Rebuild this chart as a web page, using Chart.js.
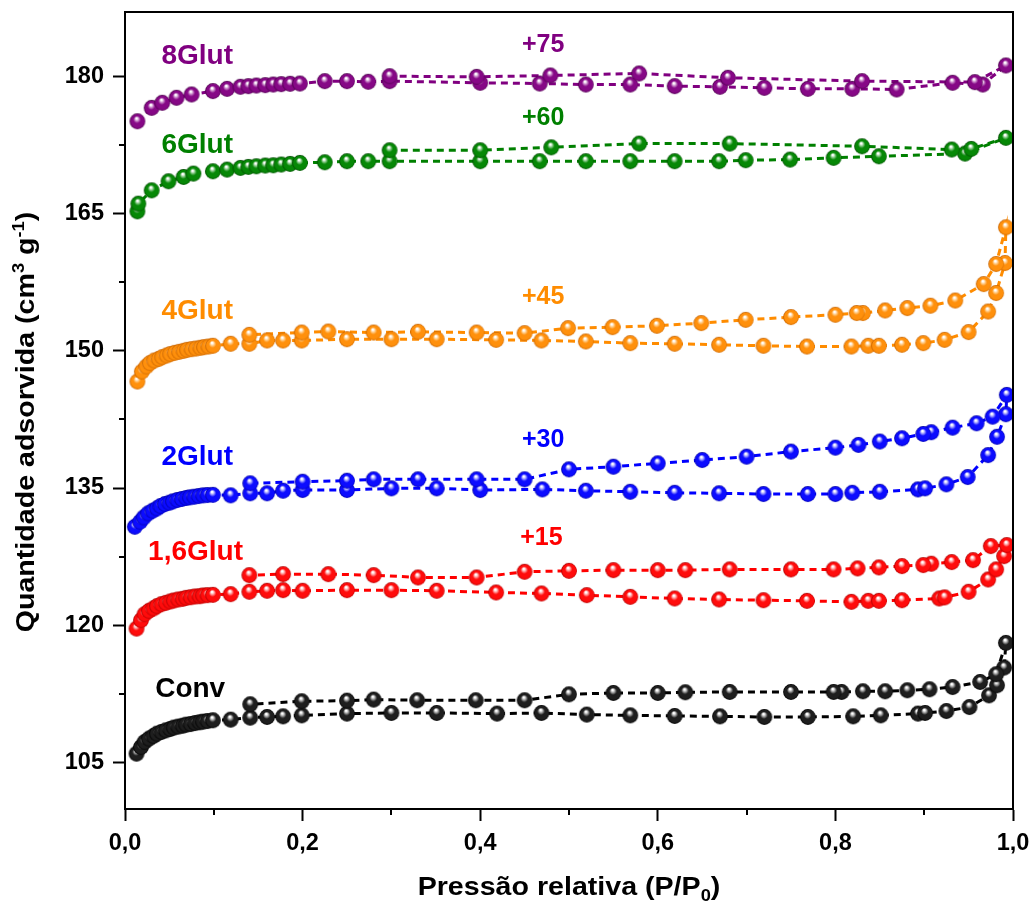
<!DOCTYPE html>
<html>
<head>
<meta charset="utf-8">
<title>Isotermas de adsorção</title>
<script src="https://cdn.jsdelivr.net/npm/chart.js@4.4.1/dist/chart.umd.min.js"></script>
<style>
  html, body { margin: 0; padding: 0; background: #ffffff; }
  canvas { display: block; }
</style>
</head>
<body>
<canvas id="iso" width="1035" height="905"></canvas>
<script>
// ---- Isotherm data: relative pressure (P/P0) and adsorbed quantity (cm3 g-1) ----
// Each sample is plotted shifted upward by its offset.
const sampleNames   = ['Conv', '1,6Glut', '2Glut', '4Glut', '6Glut', '8Glut'];
const sampleOffsets = [0, 15, 30, 45, 60, 75];

// Conv
const convAdsP = [0.013, 0.018, 0.022, 0.027, 0.032, 0.036, 0.041, 0.046, 0.051, 0.055, 0.060, 0.065, 0.069, 0.074, 0.079, 0.084, 0.088, 0.093, 0.099, 0.119, 0.141, 0.160, 0.178, 0.199, 0.250, 0.300, 0.351, 0.419, 0.469, 0.520, 0.569, 0.619, 0.670, 0.720, 0.769, 0.820, 0.851, 0.893, 0.901, 0.925, 0.951, 0.973, 0.982, 0.990, 0.992];
const convAdsQ = [105.95, 106.67, 107.22, 107.59, 107.88, 108.14, 108.32, 108.50, 108.65, 108.80, 108.91, 109.01, 109.12, 109.19, 109.30, 109.38, 109.45, 109.52, 109.60, 109.67, 109.89, 109.96, 110.03, 110.14, 110.33, 110.40, 110.40, 110.33, 110.40, 110.22, 110.14, 110.07, 110.03, 109.96, 109.96, 110.03, 110.14, 110.33, 110.40, 110.61, 111.05, 112.33, 113.43, 115.36, 118.06];
const convDesP = [0.981, 0.963, 0.932, 0.906, 0.881, 0.856, 0.831, 0.807, 0.798, 0.750, 0.681, 0.631, 0.600, 0.550, 0.500, 0.450, 0.395, 0.329, 0.280, 0.250, 0.199, 0.141];
const convDesQ = [114.63, 113.79, 113.24, 112.99, 112.88, 112.77, 112.77, 112.70, 112.70, 112.70, 112.70, 112.66, 112.59, 112.59, 112.44, 111.79, 111.79, 111.79, 111.86, 111.75, 111.68, 111.35];

// 1,6Glut
const g16AdsP = [0.013, 0.018, 0.022, 0.027, 0.032, 0.036, 0.041, 0.046, 0.051, 0.055, 0.060, 0.065, 0.069, 0.074, 0.079, 0.084, 0.088, 0.093, 0.099, 0.119, 0.140, 0.160, 0.178, 0.200, 0.250, 0.300, 0.351, 0.418, 0.469, 0.520, 0.569, 0.619, 0.669, 0.719, 0.768, 0.818, 0.837, 0.849, 0.875, 0.917, 0.923, 0.950, 0.972, 0.981, 0.990, 0.993];
const g16AdsQ = [104.63, 105.54, 106.20, 106.57, 106.83, 107.08, 107.30, 107.44, 107.59, 107.70, 107.81, 107.88, 107.99, 108.06, 108.14, 108.17, 108.25, 108.28, 108.32, 108.39, 108.65, 108.76, 108.83, 108.76, 108.83, 108.83, 108.76, 108.58, 108.47, 108.28, 108.10, 107.92, 107.81, 107.73, 107.66, 107.55, 107.66, 107.66, 107.73, 107.92, 108.04, 108.65, 110.00, 111.10, 112.55, 113.76];
const g16DesP = [0.975, 0.955, 0.931, 0.908, 0.899, 0.875, 0.849, 0.825, 0.798, 0.750, 0.681, 0.631, 0.600, 0.550, 0.500, 0.450, 0.396, 0.330, 0.280, 0.229, 0.178, 0.140];
const g16DesQ = [113.65, 112.11, 111.90, 111.72, 111.57, 111.46, 111.32, 111.21, 111.10, 111.10, 111.10, 111.02, 111.02, 111.02, 110.94, 110.84, 110.22, 110.22, 110.47, 110.58, 110.58, 110.47];

// 2Glut
const g2AdsP = [0.011, 0.017, 0.021, 0.026, 0.031, 0.036, 0.040, 0.045, 0.050, 0.054, 0.059, 0.064, 0.069, 0.073, 0.078, 0.083, 0.088, 0.093, 0.099, 0.119, 0.141, 0.160, 0.178, 0.200, 0.250, 0.300, 0.351, 0.400, 0.470, 0.519, 0.569, 0.619, 0.669, 0.719, 0.769, 0.800, 0.819, 0.850, 0.893, 0.901, 0.925, 0.949, 0.972, 0.982, 0.992, 0.993];
const g2AdsQ = [100.76, 101.31, 101.78, 102.22, 102.51, 102.77, 103.03, 103.25, 103.39, 103.54, 103.69, 103.80, 103.91, 103.98, 104.05, 104.12, 104.20, 104.23, 104.25, 104.20, 104.42, 104.42, 104.70, 104.78, 104.78, 104.96, 104.96, 104.78, 104.85, 104.70, 104.59, 104.48, 104.42, 104.34, 104.34, 104.34, 104.48, 104.59, 104.85, 104.96, 105.40, 106.20, 108.60, 110.60, 113.07, 115.18];
const g2DesP = [0.977, 0.959, 0.932, 0.908, 0.899, 0.875, 0.850, 0.826, 0.800, 0.750, 0.700, 0.650, 0.600, 0.550, 0.500, 0.450, 0.396, 0.330, 0.280, 0.250, 0.200, 0.141];
const g2DesQ = [112.80, 112.08, 111.60, 111.10, 110.91, 110.44, 110.08, 109.71, 109.41, 108.98, 108.43, 108.06, 107.70, 107.33, 107.04, 105.95, 105.95, 105.95, 105.95, 105.80, 105.69, 105.51];

// 4Glut
const g4AdsP = [0.014, 0.019, 0.024, 0.028, 0.033, 0.038, 0.042, 0.047, 0.051, 0.056, 0.061, 0.066, 0.070, 0.075, 0.080, 0.085, 0.089, 0.094, 0.099, 0.119, 0.140, 0.160, 0.178, 0.199, 0.250, 0.300, 0.351, 0.418, 0.469, 0.519, 0.569, 0.619, 0.669, 0.719, 0.768, 0.818, 0.837, 0.849, 0.875, 0.899, 0.923, 0.950, 0.972, 0.981, 0.991, 0.992];
const g4AdsQ = [101.64, 102.73, 103.28, 103.65, 103.94, 104.12, 104.31, 104.49, 104.64, 104.78, 104.89, 105.00, 105.11, 105.18, 105.25, 105.33, 105.40, 105.47, 105.55, 105.77, 105.77, 106.13, 106.13, 106.13, 106.27, 106.27, 106.27, 106.20, 106.13, 106.02, 105.84, 105.77, 105.66, 105.55, 105.47, 105.47, 105.55, 105.55, 105.66, 105.84, 106.20, 107.05, 109.30, 111.32, 114.60, 118.50];
const g4DesP = [0.981, 0.967, 0.935, 0.907, 0.881, 0.856, 0.831, 0.824, 0.800, 0.750, 0.699, 0.649, 0.599, 0.549, 0.499, 0.450, 0.396, 0.330, 0.280, 0.229, 0.199, 0.140];
const g4DesQ = [114.49, 112.30, 110.50, 109.93, 109.67, 109.41, 109.13, 109.13, 108.94, 108.69, 108.39, 108.03, 107.74, 107.59, 107.48, 106.93, 107.00, 107.08, 107.00, 107.11, 107.00, 106.75];

// 6Glut
const g6AdsP = [0.014, 0.015, 0.030, 0.049, 0.066, 0.077, 0.099, 0.115, 0.130, 0.139, 0.148, 0.158, 0.167, 0.176, 0.186, 0.197, 0.225, 0.250, 0.274, 0.298, 0.400, 0.467, 0.519, 0.569, 0.619, 0.669, 0.699, 0.749, 0.798, 0.849, 0.946, 0.992];
const g6AdsQ = [105.25, 106.09, 107.55, 108.54, 109.01, 109.38, 109.63, 109.82, 110.00, 110.11, 110.18, 110.26, 110.29, 110.37, 110.44, 110.55, 110.62, 110.73, 110.73, 110.73, 110.73, 110.73, 110.73, 110.73, 110.73, 110.73, 110.84, 110.91, 111.10, 111.27, 111.57, 113.29];
const g6DesP = [0.953, 0.931, 0.830, 0.681, 0.579, 0.480, 0.400, 0.298];
const g6DesQ = [112.08, 112.01, 112.37, 112.66, 112.66, 112.25, 111.93, 111.93];

// 8Glut
const g8AdsP = [0.014, 0.030, 0.042, 0.058, 0.075, 0.099, 0.115, 0.130, 0.139, 0.148, 0.158, 0.167, 0.176, 0.186, 0.197, 0.225, 0.250, 0.274, 0.298, 0.400, 0.467, 0.519, 0.569, 0.619, 0.670, 0.720, 0.769, 0.819, 0.869, 0.932, 0.966, 0.992];
const g8AdsQ = [100.10, 101.57, 102.12, 102.67, 103.03, 103.40, 103.65, 103.87, 103.94, 104.01, 104.05, 104.12, 104.16, 104.20, 104.23, 104.49, 104.49, 104.42, 104.49, 104.31, 104.23, 104.12, 104.12, 103.94, 103.87, 103.76, 103.65, 103.65, 103.58, 104.31, 104.12, 106.20];
const g8DesP = [0.957, 0.830, 0.679, 0.579, 0.479, 0.396, 0.298];
const g8DesQ = [104.38, 104.49, 104.86, 105.33, 105.11, 104.96, 105.03];

// Axis ticks
const xMajorTicks = [0, 0.2, 0.4, 0.6, 0.8, 1.0];
const xMinorTicks = [0.1, 0.3, 0.5, 0.7, 0.9];
const yMajorTicks = [105, 120, 135, 150, 165, 180];
const yMinorTicks = [112.5, 127.5, 142.5, 157.5, 172.5];

// ---- Styling ----
const FONT = "'Liberation Sans', Arial, Helvetica, sans-serif";
const sampleSeries = [
  [convAdsP, convAdsQ, convDesP, convDesQ],
  [g16AdsP, g16AdsQ, g16DesP, g16DesQ],
  [g2AdsP, g2AdsQ, g2DesP, g2DesQ],
  [g4AdsP, g4AdsQ, g4DesP, g4DesQ],
  [g6AdsP, g6AdsQ, g6DesP, g6DesQ],
  [g8AdsP, g8AdsQ, g8DesP, g8DesQ]
];
const sampleColors = ['#000000', '#ff0000', '#0000ff', '#ff8c00', '#008000', '#800080'];
const sampleBody   = ['#1e1e1e', '#ff0c0c', '#0c0cff', '#ff900c', '#068806', '#860886'];
const sampleShade  = ['#000000', '#b00000', '#0000a8', '#c86400', '#004c00', '#4c004c'];
const sampleGlow   = ['#a0a0a0', '#ff9a9a', '#9a9aff', '#ffcc88', '#88c888', '#c888c8'];

// Label anchors in data coordinates (left edge, text baseline)
const nameAnchors   = [[0.034, 112.2], [0.026, 127.1], [0.041, 137.5], [0.041, 153.5], [0.041, 171.6], [0.041, 181.4]];
const offsetAnchors = [null, [0.445, 128.76], [0.447, 139.5], [0.447, 155.17], [0.447, 174.65], [0.447, 182.65]];

// Shaded ball marker drawn once per colour
function makeBall(i, r) {
  const size = Math.ceil(r * 2 + 2);
  const cv = document.createElement('canvas');
  cv.width = cv.height = size;
  const g = cv.getContext('2d');
  const c = size / 2;
  const grd = g.createRadialGradient(c - r * 0.12, c - r * 0.42, 0, c + r * 0.05, c + r * 0.05, r * 1.02);
  grd.addColorStop(0, '#ffffff');
  grd.addColorStop(0.1, '#ffffff');
  grd.addColorStop(0.26, sampleGlow[i]);
  grd.addColorStop(0.45, sampleBody[i]);
  grd.addColorStop(0.8, sampleBody[i]);
  grd.addColorStop(1, sampleShade[i]);
  g.fillStyle = grd;
  g.beginPath();
  g.arc(c, c, r, 0, Math.PI * 2);
  g.fill();
  return cv;
}

// One closed loop per sample: adsorption branch followed by desorption branch
const datasets = sampleSeries.map((s, i) => {
  const [aP, aQ, dP, dQ] = s;
  const off = sampleOffsets[i];
  const pts = aP.map((p, k) => ({ x: p, y: aQ[k] + off }))
    .concat(dP.map((p, k) => ({ x: p, y: dQ[k] + off })));
  return {
    label: sampleNames[i],
    data: pts,
    showLine: true,
    borderColor: sampleColors[i],
    borderWidth: 3,
    borderDash: [7, 5],
    tension: 0,
    pointStyle: makeBall(i, 7.9),
    pointRadius: 8,
    pointHoverRadius: 8
  };
}).reverse();

// Draw a run of text pieces with optional superscripts/subscripts; returns width
function pieces(ctx, parts, size, draw) {
  let x = 0;
  if (draw) x = -pieces(ctx, parts, size, false) / 2;
  let w = 0;
  for (const p of parts) {
    const s = (p.sup || p.sub) ? size * 0.64 : size;
    ctx.font = `bold ${s}px ${FONT}`;
    const tw = ctx.measureText(p.t).width;
    if (draw) {
      const dy = p.sup ? -size * 0.40 : (p.sub ? size * 0.22 : 0);
      ctx.fillText(p.t, x + w, dy);
    }
    w += tw;
  }
  return w;
}

const decor = {
  id: 'decor',
  afterDraw(chart) {
    const { ctx, chartArea: a, scales: { x, y } } = chart;
    ctx.save();
    ctx.strokeStyle = '#000';
    ctx.lineWidth = 2;
    // top and right frame
    ctx.beginPath();
    ctx.moveTo(a.left - 1, a.top);
    ctx.lineTo(a.right, a.top);
    ctx.lineTo(a.right, a.bottom + 1);
    ctx.stroke();
    // minor ticks
    ctx.beginPath();
    xMinorTicks.forEach(v => {
      const px = Math.round(x.getPixelForValue(v));
      ctx.moveTo(px, a.bottom); ctx.lineTo(px, a.bottom + 6);
    });
    yMinorTicks.forEach(v => {
      const py = Math.round(y.getPixelForValue(v));
      ctx.moveTo(a.left, py); ctx.lineTo(a.left - 6, py);
    });
    ctx.stroke();

    // sample names and offsets
    ctx.textAlign = 'left';
    ctx.textBaseline = 'alphabetic';
    sampleNames.forEach((n, i) => {
      ctx.fillStyle = sampleColors[i];
      ctx.font = `bold 28px ${FONT}`;
      const [nx, ny] = nameAnchors[i];
      ctx.fillText(n, x.getPixelForValue(nx), y.getPixelForValue(ny));
      if (offsetAnchors[i]) {
        ctx.font = `bold 25px ${FONT}`;
        const [ox, oy] = offsetAnchors[i];
        ctx.fillText('+' + sampleOffsets[i], x.getPixelForValue(ox), y.getPixelForValue(oy));
      }
    });

    // axis titles
    ctx.fillStyle = '#000';
    ctx.save();
    ctx.translate((a.left + a.right) / 2, 895);
    ctx.scale(1.1, 1);
    pieces(ctx, [{ t: 'Pressão relativa (P/P' }, { t: '0', sub: true }, { t: ')' }], 26, true);
    ctx.restore();

    ctx.save();
    ctx.translate(34, 422);
    ctx.rotate(-Math.PI / 2);
    ctx.scale(1.1, 1);
    pieces(ctx, [{ t: 'Quantidade adsorvida (cm' }, { t: '3', sup: true }, { t: ' g' }, { t: '-1', sup: true }, { t: ')' }], 26, true);
    ctx.restore();
    ctx.restore();
  }
};

const tickFont = { family: FONT, size: 23.5, weight: 'bold' };

new Chart(document.getElementById('iso'), {
  type: 'scatter',
  data: { datasets },
  options: {
    responsive: false,
    animation: false,
    events: [],
    layout: { padding: { top: 12, right: 22, left: 0, bottom: 0 } },
    plugins: { legend: { display: false }, tooltip: { enabled: false } },
    scales: {
      x: {
        type: 'linear', position: 'bottom', min: 0, max: 1,
        afterBuildTicks: s => { s.ticks = xMajorTicks.map(v => ({ value: v })); },
        afterFit: s => { s.height = 96; s.paddingLeft = 0; s.paddingRight = 0; },
        ticks: {
          callback: v => v.toFixed(1).replace('.', ','),
          font: tickFont, color: '#000', padding: 8, maxRotation: 0, autoSkip: false
        },
        grid: { drawOnChartArea: false, drawTicks: true, tickLength: 12, tickWidth: 2, tickColor: '#000' },
        border: { display: true, color: '#000', width: 2 }
      },
      y: {
        type: 'linear', position: 'left', min: 99.9, max: 187.05,
        afterBuildTicks: s => { s.ticks = yMajorTicks.map(v => ({ value: v })); },
        afterFit: s => { s.width = 125; s.paddingTop = 0; s.paddingBottom = 0; },
        ticks: {
          callback: v => String(v),
          font: tickFont, color: '#000', padding: 9, autoSkip: false
        },
        grid: { drawOnChartArea: false, drawTicks: true, tickLength: 12, tickWidth: 2, tickColor: '#000' },
        border: { display: true, color: '#000', width: 2 }
      }
    }
  },
  plugins: [decor]
});
</script>
</body>
</html>
